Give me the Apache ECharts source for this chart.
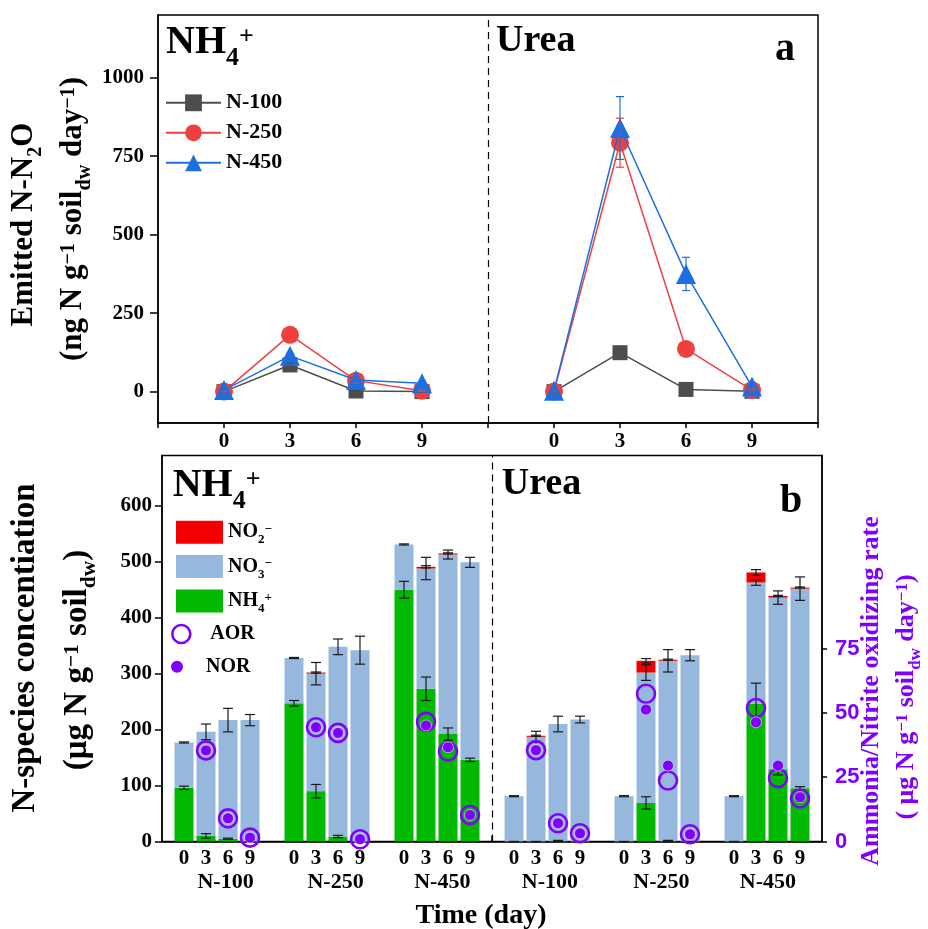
<!DOCTYPE html>
<html><head><meta charset="utf-8">
<script src="https://cdn.jsdelivr.net/npm/echarts@6/dist/echarts.min.js"></script>
<style>html,body{margin:0;padding:0;background:#fff}#c{width:928px;height:929px}</style>
</head><body><div id="c"></div>
<script>
// ---------- Panel a: emitted N-N2O ----------
const daysA = [0, 3, 6, 9];
const levelNames = ['N-100', 'N-250', 'N-450'];
const n2oAmm100 = [0, 85, 2, 0];
const n2oAmm250 = [0, 181, 35, 3];
const n2oAmm450 = [5, 114, 37, 27];
const n2oUrea100 = [0, 124, 7, 1];
const n2oUrea250 = [0, 793, 136, 5];
const n2oUrea450 = [3, 840, 375, 16];
const errAmm100 = [1, 6, 2, 1];
const errAmm250 = [1, 8, 8, 3];
const errAmm450 = [2, 8, 6, 3];
const errUrea100 = [1, 8, 3, 1];
const errUrea250 = [1, 78, 8, 3];
const errUrea450 = [2, 100, 53, 4];
const yTicksA = [0, 250, 500, 750, 1000];

// ---------- Panel b: N species (order: N-100 d0..d9, N-250 ..., N-450 ...) ----------
const daysB = ['0', '3', '6', '9'];
const nh4Amm  = [96, 10, 5, 0, 247, 90, 9, 0, 450, 273, 192, 146];
const no3Amm  = [81, 186, 212, 217, 81, 210, 339, 342, 81, 215, 321, 353];
const no2Amm  = [0, 0, 0, 0, 0, 2, 0, 0, 0, 3, 2, 0];
const nh4Urea = [0, 0, 1, 0, 0, 69, 1, 0, 0, 246, 129, 95];
const no3Urea = [81, 187, 209, 218, 81, 233, 322, 333, 81, 217, 307, 357];
const no2Urea = [0, 2, 0, 0, 0, 21, 2, 0, 0, 18, 3, 2];
const nh4ErrAmm  = [3, 4, 1, 0, 5, 12, 2, 0, 15, 21, 11, 3];
const no3ErrAmm  = [1, 14, 21, 10, 1, 20, 14, 25, 1, 20, 8, 9];
const no2ErrAmm  = [0, 0, 0, 0, 0, 1, 0, 0, 0, 2, 1, 0];
const nh4ErrUrea = [0, 0, 1, 0, 0, 11, 1, 0, 0, 37, 10, 3];
const no3ErrUrea = [1, 10, 14, 6, 1, 14, 20, 10, 1, 5, 12, 21];
const no2ErrUrea = [0, 1, 0, 0, 0, 4, 1, 0, 0, 5, 1, 1];
const aorAmm  = [null, 35.4, 9.0, 1.5, null, 44.4, 42.2, 0.9, null, 46.5, 35.0, 10.3];
const norAmm  = [null, 35.4, 9.0, 1.5, null, 44.4, 42.2, 0.9, null, 45.1, 36.6, 10.3];
const aorUrea = [null, 35.5, 7.1, 3.2, null, 57.4, 23.7, 2.8, null, 51.9, 24.7, 16.7];
const norUrea = [null, 35.5, 7.1, 3.2, null, 51.3, 29.5, 2.8, null, 46.3, 29.5, 17.2];
const yTicksB = [0, 100, 200, 300, 400, 500, 600];
const yTicksR = [0, 25, 50, 75];

// ---------- styling ----------
const serif = 'Liberation Serif';
const sans = 'Liberation Sans';
const purple = '#8000ff';
const lineColors = ['#4d4d4d', '#ef4040', '#1c6fe0'];
const lineSymbols = ['rect', 'circle', 'triangle'];
const lineSymbolSizes = [15, 18, 20];

function richSet(F, H, color) {
  const base = {fontFamily: serif, fontWeight: 'bold', color: color, fill: color};
  const padT = Math.max(0, H / 2 - 0.47 * F), padB = Math.max(0, H / 2 - 0.71 * F);
  return {
    m: Object.assign({fontSize: F, lineHeight: H, verticalAlign: 'middle'}, base),
    sub: Object.assign({fontSize: 0.65 * F, lineHeight: 1, verticalAlign: 'bottom', padding: [0, 0, padB, 0]}, base),
    sup: Object.assign({fontSize: 0.65 * F, lineHeight: 1, verticalAlign: 'top', padding: [padT, 0, 0, 0]}, base)
  };
}
function gText(x, y, text, F, color, opts) {
  opts = opts || {};
  return {
    type: 'text', x: x, y: y, rotation: opts.rot || 0, z: 100,
    style: {text: text, rich: richSet(F, 1.6 * F, color),
            align: opts.align || 'left', verticalAlign: opts.va || 'top'}
  };
}

// layout positions: panel a urea half is offset by 15 days; panel b uses slots -1..29
const offA = [0, 15];
function posB(f, g, i) { return 15 * f + 5 * g + i; }
const catsB = [];
for (let p = -1; p <= 29; p++) catsB.push(String(p));

// ----- panel a series -----
const n2o = [[n2oAmm100, n2oUrea100], [n2oAmm250, n2oUrea250], [n2oAmm450, n2oUrea450]];
const n2oErr = [[errAmm100, errUrea100], [errAmm250, errUrea250], [errAmm450, errUrea450]];
const series = [];
function errRender(color, cap, lw) {
  return function (params, api) {
    const x = api.value(0), y = api.value(1), e = api.value(2);
    const p1 = api.coord([x, y + e]), p2 = api.coord([x, y - e]);
    const st = {stroke: color, lineWidth: lw};
    return {type: 'group', children: [
      {type: 'line', shape: {x1: p1[0], y1: p1[1], x2: p2[0], y2: p2[1]}, style: st},
      {type: 'line', shape: {x1: p1[0] - cap, y1: p1[1], x2: p1[0] + cap, y2: p1[1]}, style: st},
      {type: 'line', shape: {x1: p2[0] - cap, y1: p2[1], x2: p2[0] + cap, y2: p2[1]}, style: st}
    ]};
  };
}
const dashLine = {silent: true, symbol: ['none', 'none'], label: {show: false},
  lineStyle: {color: '#000', width: 1.2, type: [7, 5]}};
for (let l = 0; l < 3; l++) {
  const errData = [];
  for (let f = 0; f < 2; f++) {
    const s = {
      name: levelNames[l], type: 'line', xAxisIndex: 0, yAxisIndex: 0,
      data: daysA.map((d, i) => [d + offA[f], n2o[l][f][i]]),
      symbol: lineSymbols[l], symbolSize: lineSymbolSizes[l],
      lineStyle: {color: lineColors[l], width: 1.5},
      itemStyle: {color: lineColors[l], opacity: 1},
      z: 3 + l
    };
    if (l === 0 && f === 0) s.markLine = Object.assign({data: [{xAxis: 12}]}, dashLine);
    series.push(s);
    daysA.forEach((d, i) => errData.push([d + offA[f], n2o[l][f][i], n2oErr[l][f][i]]));
  }
  series.push({type: 'custom', xAxisIndex: 0, yAxisIndex: 0, z: 6 + l,
    renderItem: errRender(lineColors[l], 4, 1.2), encode: {x: 0, y: 1}, data: errData});
}

// ----- panel b series -----
const nh4All = nh4Amm.concat(nh4Urea), no3All = no3Amm.concat(no3Urea), no2All = no2Amm.concat(no2Urea);
const e1All = nh4ErrAmm.concat(nh4ErrUrea), e2All = no3ErrAmm.concat(no3ErrUrea), e3All = no2ErrAmm.concat(no2ErrUrea);
const aorAll = aorAmm.concat(aorUrea), norAll = norAmm.concat(norUrea);
const xB = [];
for (let f = 0; f < 2; f++) for (let g = 0; g < 3; g++) for (let i = 0; i < 4; i++) xB.push(posB(f, g, i));
const idxB = xB.map(p => catsB.indexOf(String(p)));
function slotArray(vals) {
  const arr = catsB.map(() => null);
  idxB.forEach((ix, k) => { arr[ix] = vals[k]; });
  return arr;
}

const barCommon = {type: 'bar', xAxisIndex: 1, yAxisIndex: 1, stack: 'n', barWidth: 19, z: 2};
series.push(Object.assign({}, barCommon, {name: 'NH4', itemStyle: {color: '#00b900'},
  data: slotArray(nh4All), markLine: Object.assign({data: [{xAxis: '14'}]}, dashLine)}));
series.push(Object.assign({}, barCommon, {name: 'NO3', itemStyle: {color: '#95b8dc'}, data: slotArray(no3All)}));
series.push(Object.assign({}, barCommon, {name: 'NO2', itemStyle: {color: '#f20000'}, data: slotArray(no2All)}));

const errB = [];
idxB.forEach((ix, k) => {
  errB.push([ix, nh4All[k], e1All[k]]);
  errB.push([ix, nh4All[k] + no3All[k], e2All[k]]);
  if (no2All[k] > 0) errB.push([ix, nh4All[k] + no3All[k] + no2All[k], e3All[k]]);
});
series.push({type: 'custom', xAxisIndex: 1, yAxisIndex: 1, z: 4,
  renderItem: errRender('#1a1a1a', 5, 1.2), encode: {x: 0, y: 1}, data: errB});

series.push({name: 'AOR', type: 'scatter', xAxisIndex: 1, yAxisIndex: 2, z: 5,
  symbol: 'circle', symbolSize: 18,
  itemStyle: {color: 'rgba(255,255,255,0)', borderColor: purple, borderWidth: 2.6, opacity: 1},
  data: idxB.map((ix, k) => [ix, aorAll[k]]).filter(p => p[1] !== null)});
series.push({name: 'NOR', type: 'scatter', xAxisIndex: 1, yAxisIndex: 2, z: 6,
  symbol: 'circle', symbolSize: 11,
  itemStyle: {color: purple, borderColor: 'rgba(255,255,255,0.55)', borderWidth: 1, opacity: 1},
  data: idxB.map((ix, k) => [ix, norAll[k]]).filter(p => p[1] !== null)});

// ---------- axes ----------
const lblSerif = {fontFamily: serif, fontWeight: 'bold', color: '#000', fontSize: 21};
const axLine = {show: true, onZero: false, lineStyle: {color: '#000', width: 1.5}};
const groupLabelPos = [1.89, 6.89, 11.74, 16.63, 21.70, 26.54];

const option = {
  animation: false,
  grid: [
    {left: 158, top: 15, width: 660, height: 408, show: true, borderColor: '#000', borderWidth: 1.5, outerBoundsMode: 'none'},
    {left: 162, top: 455.5, width: 660, height: 386, show: true, borderColor: '#000', borderWidth: 1.5, outerBoundsMode: 'none'},
    {left: 162, top: 455.5, width: 660, height: 386, show: false, outerBoundsMode: 'none'}
  ],
  xAxis: [
    {gridIndex: 0, type: 'value', min: -3, max: 27, interval: 3, axisLine: axLine,
      axisTick: {show: true, length: 5, lineStyle: {color: '#000', width: 1.5}},
      axisLabel: Object.assign({margin: 8, customValues: [0, 3, 6, 9, 15, 18, 21, 24],
        formatter: v => String(v >= 15 ? v - 15 : v)}, lblSerif),
      splitLine: {show: false}},
    {gridIndex: 1, type: 'category', data: catsB, boundaryGap: false, axisLine: axLine,
      axisTick: {show: true, inside: true, length: 6, interval: (i, v) => v === '14',
        lineStyle: {color: '#000', width: 1.5}},
      axisLabel: Object.assign({margin: 7, interval: 0,
        formatter: v => (xB.indexOf(+v) >= 0 ? daysB[((+v % 15) % 5)] : '')}, lblSerif),
      splitLine: {show: false}},
    {gridIndex: 2, type: 'value', min: -1, max: 29, interval: 1, axisLine: {show: false},
      axisTick: {show: false},
      axisLabel: Object.assign({margin: 30, customValues: groupLabelPos,
        formatter: v => levelNames[Math.round(((v % 15) - 1.5) / 5)]}, lblSerif, {fontSize: 22}),
      splitLine: {show: false}}
  ],
  yAxis: [
    {gridIndex: 0, type: 'value', min: -100, max: 1200, interval: 100, axisLine: axLine,
      axisTick: {show: true, length: 8, customValues: yTicksA, lineStyle: {color: '#000', width: 1.5}},
      axisLabel: Object.assign({margin: 14, customValues: yTicksA, formatter: v => String(v)}, lblSerif),
      splitLine: {show: false}},
    {gridIndex: 1, type: 'value', min: 0, max: 690, interval: 10, axisLine: axLine,
      axisTick: {show: true, length: 7, customValues: yTicksB, lineStyle: {color: '#000', width: 1.5}},
      axisLabel: Object.assign({margin: 10, customValues: yTicksB, formatter: v => String(v)}, lblSerif),
      splitLine: {show: false}},
    {gridIndex: 1, type: 'value', position: 'right', min: 0, max: 150, interval: 25, axisLine: axLine,
      axisTick: {show: true, length: 5, customValues: yTicksR, lineStyle: {color: '#000', width: 1.5}},
      axisLabel: {margin: 13, customValues: yTicksR, fontFamily: sans, fontWeight: 'bold', fontSize: 22, color: purple},
      splitLine: {show: false}},
    {gridIndex: 2, type: 'value', show: false, min: 0, max: 1}
  ],
  legend: [
    {data: levelNames, orient: 'vertical', left: 165, top: 91.8, padding: 0,
      itemWidth: 55, itemHeight: 21, itemGap: 8, selectedMode: false,
      textStyle: {fontFamily: serif, fontWeight: 'bold', fontSize: 22, color: '#000'}},
    {data: ['NO2', 'NO3', 'NH4'], orient: 'vertical', left: 176, top: 516.2, padding: 0,
      icon: 'rect', itemWidth: 47, itemHeight: 23, itemGap: 2.4, selectedMode: false,
      formatter: n => n === 'NH4' ? '{m|NH}{sub|4}{sup|+}' : '{m|' + n.slice(0, 2) + '}{sub|' + n[2] + '}{sup|−}',
      textStyle: {fontFamily: serif, fontWeight: 'bold', fontSize: 20, color: '#000', rich: richSet(20, 32, '#000')}},
    {data: [{name: 'AOR', itemStyle: {color: 'rgba(255,255,255,0)', borderColor: purple, borderWidth: 2.6}}],
      orient: 'vertical', left: 171, top: 623.7, padding: 0, itemWidth: 48, itemHeight: 18, selectedMode: false,
      textStyle: {fontFamily: serif, fontWeight: 'bold', fontSize: 20, color: '#000'}},
    {data: [{name: 'NOR', itemStyle: {color: purple, borderWidth: 0}}],
      orient: 'vertical', left: 171, top: 656.7, padding: 0, itemWidth: 48, itemHeight: 12, selectedMode: false,
      textStyle: {fontFamily: serif, fontWeight: 'bold', fontSize: 20, color: '#000'}}
  ],
  graphic: [
    gText(166, 11, '{m|NH}{sub|4}{sup|+}', 40, '#000'),
    gText(496, 11, '{m|Urea}', 38, '#000'),
    gText(775, 18, '{m|a}', 40, '#000'),
    gText(172.7, 454, '{m|NH}{sub|4}{sup|+}', 40, '#000'),
    gText(501.7, 453.6, '{m|Urea}', 38, '#000'),
    gText(780, 469.5, '{m|b}', 40, '#000'),
    gText(24, 224.5, '{m|Emitted N-N}{sub|2}{m|O}', 31, '#000', {rot: Math.PI / 2, align: 'center', va: 'middle'}),
    gText(73, 219, '{m|(ng N g}{sup|−1}{m| soil}{sub|dw}{m| day}{sup|−1}{m|)}', 31, '#000', {rot: Math.PI / 2, align: 'center', va: 'middle'}),
    gText(25, 648, '{m|N-species concentiation}', 33, '#000', {rot: Math.PI / 2, align: 'center', va: 'middle'}),
    gText(77, 660, '{m|(μg N g}{sup|−1}{m| soil}{sub|dw}{m|)}', 33, '#000', {rot: Math.PI / 2, align: 'center', va: 'middle'}),
    gText(871, 691, '{m|Ammonia/Nitrite oxidizing rate}', 26, purple, {rot: Math.PI / 2, align: 'center', va: 'middle'}),
    gText(906, 697, '{m|( μg N g}{sup|−1}{m| soil}{sub|dw}{m| day}{sup|−1}{m|)}', 26, purple, {rot: Math.PI / 2, align: 'center', va: 'middle'}),
    gText(481, 915.5, '{m|Time (day)}', 28, '#000', {align: 'center', va: 'middle'})
  ],
  series: series
};
const chart = echarts.init(document.getElementById('c'), null, {renderer: 'canvas'});
chart.setOption(option);
</script></body></html>
